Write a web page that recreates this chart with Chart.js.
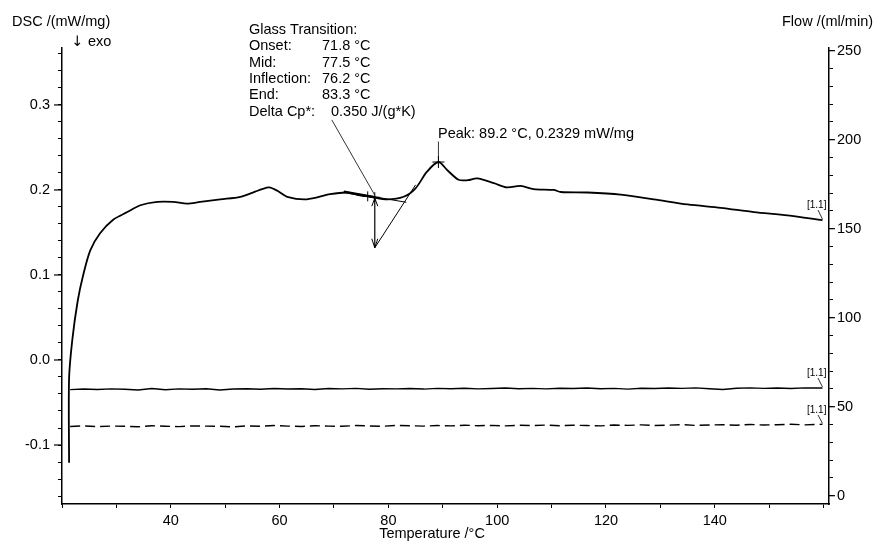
<!DOCTYPE html>
<html>
<head>
<meta charset="utf-8">
<script src="https://cdn.jsdelivr.net/npm/chart.js@4.4.1/dist/chart.umd.min.js"></script>
<style>
  body { margin: 0; background: #fff; }
  canvas { display: block; }
</style>
</head>
<body>
<canvas id="myChart" width="877" height="542"></canvas>
<script>
// DSC curve (temperature in °C, DSC in mW/mg)
const dscTemp = [21.3, 21.3, 21.9, 22.9, 23.9, 25.2, 27.0, 29.4, 32.0, 34.4,
  37.5, 40.4, 43.0, 45.4, 49.1, 52.8, 55.5, 56.8, 58.1, 59.6,
  61.4, 65.0, 69.3, 72.4, 74.5, 76.7, 79.8, 82.8, 85.0, 87.1,
  89.2, 90.8, 92.9, 94.6, 96.3, 99.4, 101.8, 104.3, 106.7, 110.4,
  111.7, 116.6, 122.7, 128.8, 135.0, 141.1, 147.2, 153.4, 159.8];
const dscValue = [-0.121, -0.022, 0.024, 0.070, 0.100, 0.129, 0.149, 0.165, 0.174, 0.182,
  0.186, 0.186, 0.184, 0.186, 0.189, 0.192, 0.198, 0.201, 0.203, 0.199,
  0.192, 0.189, 0.195, 0.197, 0.194, 0.192, 0.189, 0.192, 0.202, 0.2215,
  0.2329, 0.2235, 0.212, 0.2115, 0.2137, 0.208, 0.203, 0.2047, 0.201, 0.200,
  0.1976, 0.197, 0.1945, 0.189, 0.183, 0.179, 0.174, 0.170, 0.1644];

// purge gas flows (ml/min)
const flowTemp = [21.5, 24, 26.5, 29, 31.5, 34, 36.5, 39,
  41.5, 44, 46.5, 49, 51.5, 54, 56.5, 59,
  61.5, 64, 66.5, 69, 71.5, 74, 76.5, 79,
  81.5, 84, 86.5, 89, 91.5, 94, 96.5, 99,
  101.5, 104, 106.5, 109, 111.5, 114, 116.5, 119,
  121.5, 124, 126.5, 129, 131.5, 134, 136.5, 139,
  141.5, 144, 146.5, 149, 151.5, 154, 156.5, 159.8];
const flowSolid = [59.6, 59.9, 59.7, 60.0, 59.8, 59.4, 60.2, 59.5,
  60.0, 59.8, 60.1, 59.4, 59.9, 60.1, 59.8, 60.2,
  59.9, 60.1, 59.7, 60.2, 60.0, 60.3, 59.8, 60.1,
  60.0, 60.2, 59.9, 60.3, 60.1, 60.4, 60.0, 60.2,
  60.5, 60.1, 60.3, 60.0, 60.4, 60.2, 60.5, 60.1,
  60.3, 59.9, 60.4, 60.2, 60.5, 60.3, 60.6, 60.1,
  59.7, 60.4, 60.6, 60.3, 60.5, 60.2, 60.6, 60.5];
const flowDashed = [38.9, 39.2, 38.8, 39.1, 39.0, 38.7, 39.3, 39.0,
  38.8, 39.2, 39.1, 39.0, 38.7, 39.2, 39.0, 39.4,
  39.1, 38.9, 39.3, 39.1, 39.0, 39.4, 39.2, 39.0,
  39.5, 39.3, 39.1, 39.4, 39.2, 39.6, 39.3, 39.5,
  39.2, 39.6, 39.4, 39.7, 39.3, 39.6, 39.4, 39.2,
  39.7, 39.5, 39.8, 39.4, 39.6, 39.9, 39.5, 39.7,
  39.9, 39.6, 40.0, 39.7, 39.9, 40.1, 39.8, 40.1];

// tick labels
const tempLabels = [40, 60, 80, 100, 120, 140];
const dscLabels = [-0.1, 0.0, 0.1, 0.2, 0.3];
const flowLabels = [0, 50, 100, 150, 200, 250];

// glass transition evaluation
const glassNames = ['Onset:', 'Mid:', 'Inflection:', 'End:', 'Delta Cp*:'];
const glassTexts = ['71.8 °C', '77.5 °C', '76.2 °C', '83.3 °C', '0.350 J/(g*K)'];
const glassTemps = [71.8, 77.5, 76.2, 83.3];      // onset, mid, inflection, end
const baseLineDsc = [0.198, 0.1855];              // at onset and end
const stepArrowDsc = [0.1915, 0.132];             // at mid
const tangentTemp = [77.5, 85.0];
const tangentDsc = [0.132, 0.206];
const inflectionDsc = 0.1925;
const leaderFrom = [69.6, 0.2824];
const peak = [89.2, 0.2329, 0.257];

const family = '"Liberation Sans", Arial, "DejaVu Sans", sans-serif';
const near = (v, list) => list.some(l => Math.abs(v - l) < 1e-6);

const annot = {
  id: 'annot',
  afterDraw(chart) {
    const ctx = chart.ctx;
    const area = chart.chartArea;
    const X = t => chart.scales.x.getPixelForValue(t);
    const Y = v => chart.scales.y.getPixelForValue(v);
    const Y2 = v => chart.scales.y2.getPixelForValue(v);
    const line = (x1, y1, x2, y2, w) => {
      ctx.lineWidth = w || 1;
      ctx.beginPath(); ctx.moveTo(x1, y1); ctx.lineTo(x2, y2); ctx.stroke();
    };
    const text = (s, x, y, size, align, fam) => {
      ctx.font = size + 'px ' + (fam || family);
      ctx.textAlign = align || 'left';
      ctx.textBaseline = 'middle';
      ctx.fillText(s, x, y);
    };
    ctx.save();
    ctx.strokeStyle = '#000';
    ctx.fillStyle = '#000';

    // longer major ticks
    dscLabels.forEach(v => line(area.left - 8, Y(v), area.left, Y(v), 1.2));
    flowLabels.forEach(v => line(area.right, Y2(v), area.right + 6, Y2(v), 1.2));

    // axis titles
    text('DSC /(mW/mg)', 12, 22, 14.5);
    text('\u2193', 71, 42, 14.5, 'left', '"DejaVu Sans"');
    text('exo', 88, 42, 14.5);
    text('Flow /(ml/min)', 782, 22, 14.5);
    text('Temperature /\u00b0C', 432, 534, 14.5, 'center');

    // glass transition block
    text('Glass Transition:', 249, 30, 14.5);
    glassNames.forEach((n, i) => {
      const yy = 46.3 + i * 16.3;
      text(n, 249, yy, 14.5);
      text(glassTexts[i], i === 4 ? 331 : 322, yy, 14.5);
    });

    // construction lines
    const [tOn, tMid, tInf, tEnd] = glassTemps;
    line(X(tOn), Y(baseLineDsc[0]), X(tEnd), Y(baseLineDsc[1]), 1);
    line(X(tOn), Y(baseLineDsc[0]), X(tMid), Y(stepArrowDsc[0]), 2.6);
    line(X(tangentTemp[0]), Y(tangentDsc[0]), X(tangentTemp[1]), Y(tangentDsc[1]), 1);
    const ax = X(tMid), aTop = Y(stepArrowDsc[0]), aBot = Y(stepArrowDsc[1]);
    line(ax, aTop, ax, aBot, 1.2);
    line(ax, aTop + 1, ax - 3, aTop + 9, 1);
    line(ax, aTop + 1, ax + 3, aTop + 9, 1);
    line(ax, aBot, ax - 3, aBot - 9, 1);
    line(ax, aBot, ax + 3, aBot - 9, 1);
    line(X(leaderFrom[0]), Y(leaderFrom[1]), ax, aTop - 2, 0.8);
    const cross = (cx, cy, s) => { line(cx - s, cy, cx + s, cy, 1); line(cx, cy - s, cx, cy + s, 1); };
    cross(X(tInf), Y(inflectionDsc), 5);
    cross(ax, aTop, 5);

    // peak
    const px = X(peak[0]), py = Y(peak[1]);
    cross(px, py, 6);
    line(px, py, px, Y(peak[2]), 0.8);
    text('Peak: 89.2 \u00b0C, 0.2329 mW/mg', 438, 134, 14.5);

    // curve tags
    const tag = (ex, ey, ty) => {
      text('[1.1]', 807, ty, 10);
      line(818, ty + 5, ex, ey - 1, 0.8);
    };
    tag(X(dscTemp[dscTemp.length - 1]), Y(dscValue[dscValue.length - 1]), 205);
    tag(X(flowTemp[flowTemp.length - 1]), Y2(flowSolid[flowSolid.length - 1]), 373);
    tag(X(flowTemp[flowTemp.length - 1]), Y2(flowDashed[flowDashed.length - 1]), 410);
    ctx.restore();
  }
};

const tickFont = { family: family, size: 14.5 };

new Chart(document.getElementById('myChart'), {
  type: 'line',
  data: {
    datasets: [{
      data: dscTemp.map((t, i) => ({ x: t, y: dscValue[i] })),
      yAxisID: 'y',
      borderColor: '#000',
      borderWidth: 1.8,
      pointRadius: 0,
      tension: 0.3
    }, {
      data: flowTemp.map((t, i) => ({ x: t, y: flowSolid[i] })),
      yAxisID: 'y2',
      borderColor: '#000',
      borderWidth: 1.4,
      pointRadius: 0,
      tension: 0
    }, {
      data: flowTemp.map((t, i) => ({ x: t, y: flowDashed[i] })),
      yAxisID: 'y2',
      borderColor: '#000',
      borderWidth: 1.4,
      borderDash: [10, 5],
      pointRadius: 0,
      tension: 0
    }]
  },
  options: {
    responsive: false,
    animation: false,
    layout: { padding: { top: 48 } },
    plugins: { legend: { display: false }, tooltip: { enabled: false } },
    scales: {
      x: {
        type: 'linear',
        min: 20,
        max: 161,
        afterFit: s => { s.height = 38; },
        border: { color: '#000', width: 1.5 },
        grid: { drawOnChartArea: false, tickLength: 4, tickColor: '#000' },
        ticks: {
          stepSize: 10, includeBounds: false, autoSkip: false, maxRotation: 0,
          color: '#000', font: tickFont, padding: 4,
          callback: v => near(v, tempLabels) ? String(v) : ''
        }
      },
      y: {
        position: 'left',
        min: -0.1694,
        max: 0.367,
        afterFit: s => { s.width = 62; },
        border: { color: '#000', width: 1.5 },
        grid: { drawOnChartArea: false, tickLength: 4, tickColor: '#000' },
        ticks: {
          stepSize: 0.02, includeBounds: false, autoSkip: false,
          color: '#000', font: tickFont, padding: 8,
          callback: v => near(v, dscLabels) ? (Math.round(v * 10) / 10).toFixed(1) : ''
        }
      },
      y2: {
        position: 'right',
        min: -4.66,
        max: 251.5,
        afterFit: s => { s.width = 48; },
        border: { color: '#000', width: 1.5 },
        grid: { drawOnChartArea: false, tickLength: 4, tickColor: '#000' },
        ticks: {
          stepSize: 10, includeBounds: false, autoSkip: false,
          color: '#000', font: tickFont, padding: 4,
          callback: v => near(v, flowLabels) ? String(v) : ''
        }
      }
    }
  },
  plugins: [annot]
});
</script>
</body>
</html>
